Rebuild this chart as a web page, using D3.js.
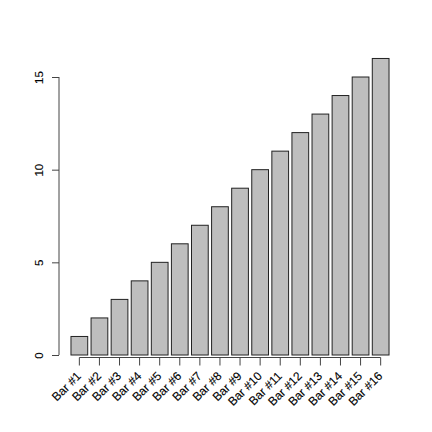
<!DOCTYPE html>
<html>
<head>
<meta charset="utf-8">
<script src="https://cdn.jsdelivr.net/npm/d3@7"></script>
<style>
  body { margin: 0; background: #fff; }
  text { font-family: "Liberation Sans", Arial, sans-serif; font-size: 12px; fill: #000; }
</style>
</head>
<body>
<div id="chart"></div>
<script>
// bar names and heights
var names = ["Bar #1", "Bar #2", "Bar #3", "Bar #4", "Bar #5", "Bar #6", "Bar #7", "Bar #8",
             "Bar #9", "Bar #10", "Bar #11", "Bar #12", "Bar #13", "Bar #14", "Bar #15", "Bar #16"];
var values = [1, 2, 3, 4, 5, 6, 7, 8, 9, 10, 11, 12, 13, 14, 15, 16];
var yTicks = [0, 5, 10, 15];

var data = names.map(function(n, i) { return {name: n, value: values[i]}; });

var svg = d3.select("#chart")
    .append("svg")
        .attr("width", 432)
        .attr("height", 432);

// X scale
var x = d3.scaleBand()
    .domain(names)
    .range([69.3, 390.7])
    .paddingInner(1 / 6)
    .paddingOuter(1 / 12);

// Y scale
var y = d3.scaleLinear()
    .domain([0, 16])
    .range([355, 355 - 16 * 18.533]);

// bars
svg.selectAll("rect.bar")
    .data(data)
    .enter()
    .append("rect")
        .attr("class", "bar")
        .attr("x", function(d) { return x(d.name); })
        .attr("y", function(d) { return y(d.value); })
        .attr("width", x.bandwidth())
        .attr("height", function(d) { return y(0) - y(d.value); })
        .attr("fill", "#bebebe")
        .attr("stroke", "#222")
        .attr("stroke-width", 1);

// Y axis
var yAxis = svg.append("g")
    .attr("transform", "translate(59,0)")
    .call(d3.axisLeft(y).tickValues(yTicks).tickSize(7).tickPadding(0));
yAxis.select(".domain").attr("d", "M0," + y(0) + "V" + y(15)).attr("stroke", "#444");
yAxis.selectAll(".tick line").attr("stroke", "#444");
yAxis.selectAll(".tick text")
    .attr("x", 0)
    .attr("dy", null)
    .attr("text-anchor", "middle")
    .attr("transform", "translate(-16.5,0) rotate(-90)")
    .style("font-size", "11.5px")
    .style("stroke", "#000")
    .style("stroke-width", 0.12)
    .style("font-family", "Liberation Sans, Arial, sans-serif");

// X axis
var xAxis = svg.append("g")
    .attr("transform", "translate(0,357.5)")
    .call(d3.axisBottom(x).tickSize(8).tickSizeOuter(0));
var first = x(names[0]) + x.bandwidth() / 2,
    last = x(names[names.length - 1]) + x.bandwidth() / 2;
xAxis.select(".domain").attr("d", "M" + first + ",0H" + last).attr("stroke", "#444");
xAxis.selectAll(".tick line").attr("stroke", "#444");
xAxis.selectAll(".tick text")
    .attr("y", 0)
    .attr("dy", null)
    .attr("text-anchor", "end")
    .attr("transform", "translate(2.5,19.3) rotate(-45)")
    .style("font-size", "12px")
    .style("stroke", "#000")
    .style("stroke-width", 0.12)
    .style("font-family", "Liberation Sans, Arial, sans-serif");
</script>
</body>
</html>
